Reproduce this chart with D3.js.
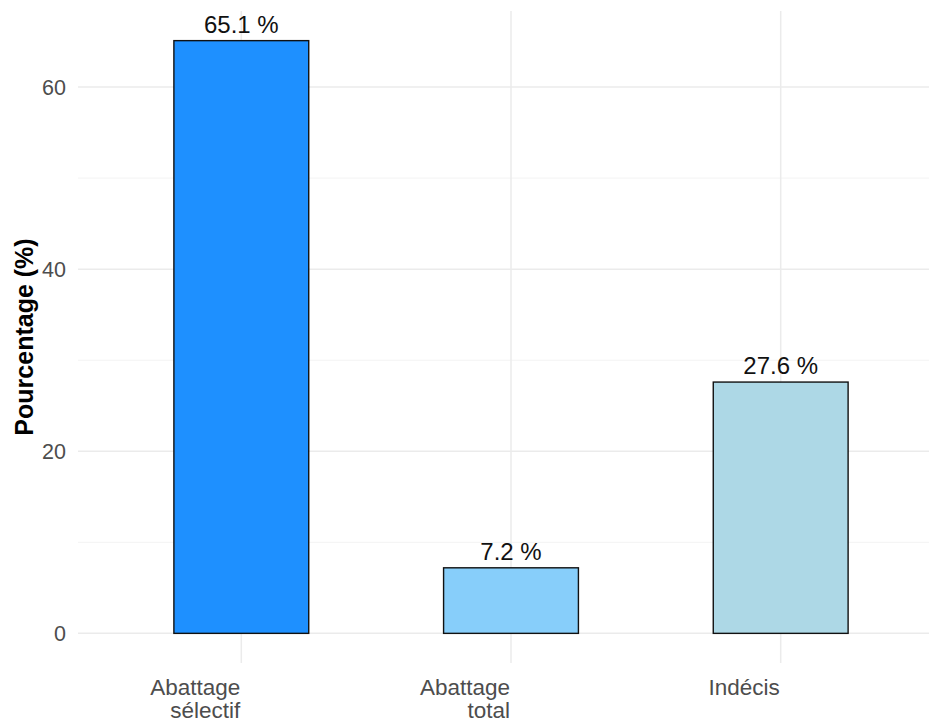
<!DOCTYPE html>
<html>
<head>
<meta charset="utf-8">
<script src="https://cdn.jsdelivr.net/npm/d3@7"></script>
<style>
  html, body { margin: 0; padding: 0; background: #fff; }
  svg { display: block; font-family: "Liberation Sans", Arial, sans-serif; }
</style>
</head>
<body>
<svg id="chart" width="929" height="724"></svg>
<script>
const categories = ["Abattage\nsélectif", "Abattage\ntotal", "Indécis"];
const values = [65.1, 7.2, 27.6];
const colors = ["#1E90FF", "#87CEFA", "#ADD8E6"];
const yTicks = [0, 20, 40, 60];
const yMinor = [10, 30, 50];
const yTitle = "Pourcentage (%)";

const W = 929, H = 724;
const panel = { left: 78, right: 942.5, top: 11, bottom: 663 };
const svg = d3.select("#chart");

const maxV = d3.max(values);
const x = d3.scaleLinear().domain([0.4, categories.length + 0.6]).range([79.5, panel.right]);
const y = d3.scaleLinear().domain([-0.05 * maxV, maxV * 1.05]).range([panel.bottom, panel.top]);

const grid = svg.append("g");
// minor
grid.selectAll("line.minor").data(yMinor).enter().append("line")
  .attr("x1", panel.left).attr("x2", W)
  .attr("y1", d => y(d)).attr("y2", d => y(d))
  .attr("stroke", "#F3F3F3").attr("stroke-width", 1);
// major y
grid.selectAll("line.majy").data(yTicks).enter().append("line")
  .attr("x1", panel.left).attr("x2", W)
  .attr("y1", d => y(d)).attr("y2", d => y(d))
  .attr("stroke", "#EBEBEB").attr("stroke-width", 1.5);
// major x
grid.selectAll("line.majx").data(categories.map((c, i) => i + 1)).enter().append("line")
  .attr("x1", d => x(d)).attr("x2", d => x(d))
  .attr("y1", panel.top).attr("y2", panel.bottom)
  .attr("stroke", "#EBEBEB").attr("stroke-width", 1.5);

// bars
svg.selectAll("rect.bar").data(values).enter().append("rect")
  .attr("x", (d, i) => x(i + 1 - 0.25))
  .attr("width", (d, i) => x(i + 1 + 0.25) - x(i + 1 - 0.25))
  .attr("y", d => y(d))
  .attr("height", d => y(0) - y(d))
  .attr("fill", (d, i) => colors[i])
  .attr("stroke", "#111").attr("stroke-width", 1.4);

// value labels
svg.selectAll("text.val").data(values).enter().append("text")
  .attr("x", (d, i) => x(i + 1))
  .attr("y", d => y(d) - 8)
  .attr("text-anchor", "middle")
  .attr("font-size", 24)
  .attr("fill", "#111")
  .text(d => d.toFixed(1) + " %");

// y ticks
svg.selectAll("text.yt").data(yTicks).enter().append("text")
  .attr("x", 66)
  .attr("y", d => y(d))
  .attr("dy", "0.36em")
  .attr("text-anchor", "end")
  .attr("font-size", 21.5)
  .attr("fill", "#4D4D4D")
  .text(d => d);

// x ticks: one text element per line
categories.forEach((c, i) => {
  c.split("\n").forEach((line, j) => {
    svg.append("text")
      .attr("x", x(i + 1) - 1)
      .attr("y", 695 + j * 23)
      .attr("text-anchor", "end")
      .attr("font-size", 22.5)
      .attr("fill", "#4D4D4D")
      .text(line);
  });
});

// y title
svg.append("text")
  .attr("transform", `translate(33, ${(panel.top + panel.bottom) / 2}) rotate(-90)`)
  .attr("text-anchor", "middle")
  .attr("font-size", 25)
  .attr("font-weight", "bold")
  .attr("fill", "#000")
  .text(yTitle);
</script>
</body>
</html>
